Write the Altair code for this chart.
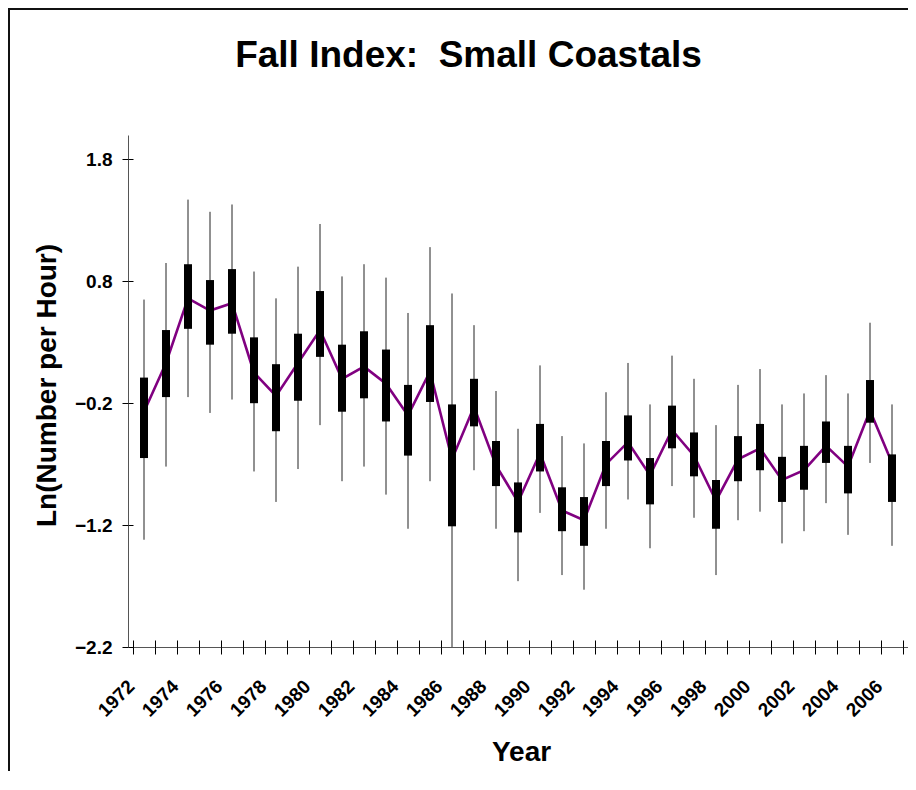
import altair as alt
import pandas as pd

years = list(range(1972, 2007))
whisker_hi = [0.65, 0.95, 1.47, 1.37, 1.43, 0.88, 0.66, 0.92, 1.27, 0.84, 0.94, 0.83, 0.54, 1.08, 0.70, 0.44, -0.10,
              -0.41, 0.11, -0.47, -0.53, -0.11, 0.13, -0.21, 0.19, 0.00, -0.38, -0.05, 0.08, -0.21, -0.12, 0.03, -0.12, 0.46, -0.21]
box_hi = [0.01, 0.40, 0.94, 0.81, 0.90, 0.34, 0.12, 0.37, 0.72, 0.28, 0.39, 0.24, -0.05, 0.44, -0.21, 0.00, -0.51,
          -0.85, -0.37, -0.89, -0.97, -0.51, -0.30, -0.65, -0.22, -0.44, -0.83, -0.47, -0.37, -0.64, -0.55, -0.35, -0.55, -0.01, -0.62]
box_lo = [-0.65, -0.15, 0.41, 0.28, 0.37, -0.20, -0.43, -0.18, 0.18, -0.27, -0.16, -0.35, -0.63, -0.19, -1.21, -0.39, -0.88,
          -1.26, -0.76, -1.25, -1.37, -0.88, -0.67, -1.03, -0.57, -0.80, -1.23, -0.84, -0.75, -1.01, -0.91, -0.69, -0.94, -0.36, -1.01]
whisker_lo = [-1.32, -0.72, -0.15, -0.28, -0.17, -0.76, -1.01, -0.74, -0.38, -0.84, -0.72, -0.95, -1.23, -0.84, -2.2, -0.75, -1.23,
              -1.66, -1.10, -1.61, -1.73, -1.23, -0.99, -1.39, -0.88, -1.14, -1.61, -1.16, -1.09, -1.35, -1.25, -1.02, -1.28, -0.69, -1.37]
mean_val = [-0.27, 0.13, 0.66, 0.56, 0.62, 0.05, -0.14, 0.13, 0.40, 0.00, 0.10, -0.04, -0.30, 0.06, -0.66, -0.23, -0.71,
            -1.01, -0.61, -1.08, -1.16, -0.70, -0.52, -0.79, -0.42, -0.63, -1.00, -0.66, -0.57, -0.83, -0.75, -0.55, -0.72, -0.26, -0.69]

label_years = list(range(1972, 2007, 2))
y_ticks = [-2.2, -1.2, -0.2, 0.8, 1.8]
x_bounds = [y - 0.5 for y in range(1972, 2008)]

df = pd.DataFrame({"year": years, "wh": whisker_hi, "bh": box_hi, "bl": box_lo,
                   "wl": whisker_lo, "mean": mean_val})

W, H = 780, 512
FONT = "Liberation Sans"
xscale = alt.Scale(domain=[1971.5, 2006.5], nice=False, zero=False)
yscale = alt.Scale(domain=[-2.2, 2.0], nice=False, zero=False)

base = alt.Chart(df)

whiskers = base.mark_rule(color="#222222", strokeWidth=1).encode(
    x=alt.X("year:Q", scale=xscale, axis=alt.Axis(
        orient="bottom", values=label_years, format="d", labelAngle=-45, labelAlign="right",
        labelBaseline="middle", labelOffset=-13, labelPadding=36, ticks=False, tickSize=0,
        labelFont=FONT, labelFontSize=19, labelFontWeight="bold", labelColor="black",
        labelOverlap=False, labelBound=False, domain=True, domainColor="#555555", domainWidth=1,
        grid=False, title="Year", titleFont=FONT, titleFontSize=28, titleFontWeight="bold",
        titleColor="black", titleBaseline="alphabetic", titleY=113, titleX=393, titleAlign="center")),
    y=alt.Y("wl:Q", scale=yscale, axis=alt.Axis(
        orient="left", values=y_ticks, format=".1f", ticks=True, tickSize=6, tickColor="black",
        labelFont=FONT, labelFontSize=19, labelFontWeight="bold", labelColor="black", labelPadding=10,
        labelOverlap=False, labelBound=False, domain=True, domainColor="#555555", domainWidth=1, grid=False,
        title="Ln(Number per Hour)", titleFont=FONT, titleFontSize=28, titleFontWeight="bold",
        titleColor="black", titleAngle=270, titleBaseline="alphabetic", titleAlign="center",
        titleX=-73, titleY=250)),
    y2="wh:Q",
)

line = base.mark_line(color="#800080", strokeWidth=2.6).encode(
    x=alt.X("year:Q", scale=xscale, axis=alt.Axis(
        orient="bottom", values=x_bounds, labels=False, ticks=True, tickSize=7, tickColor="black",
        domain=False, grid=False, title=None)),
    y=alt.Y("mean:Q", scale=yscale, axis=None),
)

boxes = base.mark_bar(color="black", size=8).encode(
    x=alt.X("year:Q", scale=xscale, axis=alt.Axis(
        orient="top", offset=-H, values=x_bounds, labels=False, ticks=True, tickSize=7,
        tickColor="black", domain=False, grid=False, title=None)),
    y=alt.Y("bl:Q", scale=yscale, axis=alt.Axis(
        orient="right", offset=-W, values=y_ticks, labels=False, ticks=True, tickSize=5,
        tickColor="black", domain=False, grid=False, title=None)),
    y2="bh:Q",
)

# chart-area border: left and top edges only (the others fall outside the picture)
edge = pd.DataFrame({"f": [0]})
frame_top = alt.Chart(edge).mark_rule(color="#111111", strokeWidth=2).encode(
    x=alt.value(-120), x2=alt.value(W), y=alt.value(-126))
frame_left = alt.Chart(edge).mark_rule(color="#111111", strokeWidth=2).encode(
    x=alt.value(-119), y=alt.value(-127), y2=alt.value(H + 124))

chart = alt.layer(whiskers, line, boxes, frame_top, frame_left).resolve_axis(
    x="independent", y="independent"
).properties(
    width=W, height=H,
    title=alt.TitleParams("Fall Index:\u00a0 Small Coastals", font=FONT, fontSize=37, fontWeight="bold",
                          color="black", anchor="middle", frame="group", dx=-49.5, offset=-97,
                          baseline="alphabetic"),
    autosize=alt.AutoSizeParams(type="none"),
    padding={"left": 120, "top": 127, "right": 0, "bottom": 124},
).configure(background="white").configure_view(stroke="transparent", strokeWidth=0)

chart.save("out.html", embed_options={"renderer": "svg", "actions": False})
